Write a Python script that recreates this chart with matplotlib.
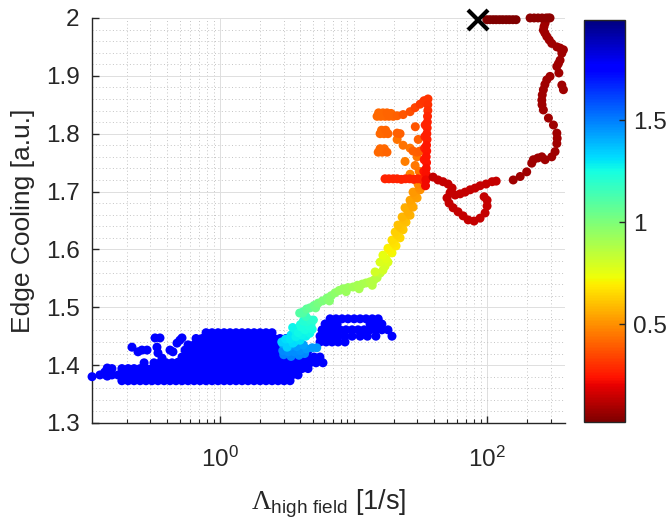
import numpy as np
import matplotlib
matplotlib.use('Agg')
import matplotlib.pyplot as plt
from matplotlib.ticker import FixedLocator, MultipleLocator, NullFormatter

plt.rcParams['font.family'] = ['Liberation Sans', 'DejaVu Sans']
plt.rcParams['mathtext.fontset'] = 'custom'
plt.rcParams['mathtext.rm'] = 'Liberation Serif'
plt.rcParams['mathtext.sf'] = 'Liberation Sans'
plt.rcParams['mathtext.it'] = 'Liberation Sans:italic'

txt = '#262626'

# ---- blue cluster (read row by row), colour value ~1.75
blue_y = [1.456, 1.446, 1.435, 1.425, 1.414, 1.404, 1.394, 1.383, 1.373]
blue_x = [
    [0.786, 0.871, 0.966, 1.072, 1.188, 1.318, 1.461, 1.621, 1.798, 1.994, 2.211, 2.452],
    [0.661, 0.733, 0.813, 0.902, 1.0, 1.109, 1.23, 1.364, 1.513, 1.678, 1.861, 2.064,
     2.289, 2.538, 2.815, 3.122],
    [0.576, 0.639, 0.708, 0.786, 0.871, 0.966, 1.072, 1.188, 1.318, 1.461, 1.621, 1.798,
     1.994, 2.211, 2.452, 2.72, 3.016, 3.345],
    [0.596, 0.661, 0.733, 0.813, 0.902, 1.0, 1.109, 1.23, 1.364, 1.513, 1.678, 1.861,
     2.064, 2.289, 2.538, 2.815, 3.122, 3.462, 3.84, 4.258, 4.56],
    [0.519, 0.576, 0.639, 0.708, 0.786, 0.871, 0.966, 1.072, 1.188, 1.318, 1.461, 1.621,
     1.798, 1.994, 2.211, 2.452, 2.72, 3.016, 3.345, 3.709, 4.114, 4.562, 5.059, 5.6],
    [0.27, 0.32, 0.355, 0.394, 0.437, 0.485, 0.538, 0.596, 0.661, 0.733, 0.813, 0.902, 1.0,
     1.109, 1.23, 1.364, 1.513, 1.678, 1.861, 2.064, 2.289, 2.538, 2.815, 3.122, 3.462,
     3.84, 4.258, 4.722, 5.237, 5.9],
    [0.155, 0.184, 0.205, 0.227, 0.252, 0.279, 0.309, 0.343, 0.381, 0.422, 0.468, 0.519,
     0.576, 0.639, 0.708, 0.786, 0.871, 0.966, 1.072, 1.188, 1.318, 1.461, 1.621, 1.798,
     1.994, 2.211, 2.452, 2.72, 3.016, 3.345, 3.709, 4.114, 4.562],
    [0.126, 0.14, 0.155, 0.172, 0.191, 0.212, 0.235, 0.26, 0.289, 0.32, 0.355, 0.394,
     0.437, 0.485, 0.538, 0.596, 0.661, 0.733, 0.813, 0.902, 1.0, 1.109, 1.23, 1.364,
     1.513, 1.678, 1.861, 2.064, 2.289, 2.538, 2.815, 3.122, 3.462, 3.84],
    [0.184, 0.205, 0.227, 0.252, 0.279, 0.309, 0.343, 0.381, 0.422, 0.468, 0.519, 0.576,
     0.639, 0.708, 0.786, 0.871, 0.966, 1.072, 1.188, 1.318, 1.461, 1.621, 1.798, 1.994,
     2.211, 2.452, 2.72, 3.016, 3.345],
]
blue_c = 1.75

# scattered blue points left of the cluster
stray_x = [0.110, 0.137, 0.150, 0.143, 0.143, 0.219, 0.243, 0.26, 0.284, 0.326, 0.337,
           0.343, 0.368, 0.422, 0.444, 0.476, 0.519, 0.485, 0.547, 0.355, 0.5]
stray_y = [1.380, 1.388, 1.388, 1.395, 1.381, 1.431, 1.423, 1.426, 1.426, 1.447, 1.431,
           1.421, 1.412, 1.426, 1.423, 1.438, 1.447, 1.405, 1.426, 1.447, 1.443]

# blue strip to the right of the cluster
strip_y = [1.480, 1.471, 1.461, 1.450, 1.440]
strip_x = [
    [6.67, 7.39, 8.20, 9.09, 10.1, 11.2, 12.4, 13.8, 15.3],
    [6.12, 6.78, 7.52, 13.3, 14.7, 16.3],
    [5.81, 6.44, 7.14, 7.92, 8.78, 9.75, 10.8, 12.0, 13.3, 14.7, 16.3, 18.1],
    [5.61, 6.22, 6.90, 7.66, 8.63, 9.75, 11.2, 12.7, 14.7, 19.4],
    [5.61, 6.22, 6.90, 7.66, 8.63],
]

# light blue patch (bottom) and cyan column (top)
lblue_x = [2.95, 3.25, 3.6, 4.0, 4.45, 4.9, 3.3, 3.75, 4.2, 2.95, 5.3, 3.0, 3.4, 3.9, 4.3]
lblue_y = [1.425, 1.423, 1.423, 1.425, 1.428, 1.430, 1.432, 1.432, 1.435, 1.437, 1.430,
           1.418, 1.415, 1.417, 1.420]
lblue_c = [1.48, 1.47, 1.47, 1.46, 1.45, 1.45, 1.44, 1.44, 1.43, 1.43, 1.45,
           1.49, 1.49, 1.48, 1.48]
cyan_x = [3.18, 3.52, 3.97, 3.35, 3.70, 4.10, 3.85, 4.33, 4.05, 4.60, 4.48, 4.72, 4.40, 4.18,
          2.9, 3.3, 3.6, 3.1, 3.4, 3.7, 4.0, 4.4, 4.7, 4.9, 3.5, 4.0, 4.2, 4.8, 5.0]
cyan_y = [1.431, 1.438, 1.443, 1.445, 1.449, 1.452, 1.456, 1.461, 1.466, 1.468, 1.475,
          1.478, 1.484, 1.490,
          1.440, 1.438, 1.440, 1.445, 1.452, 1.458, 1.447, 1.450, 1.455, 1.462, 1.465,
          1.470, 1.476, 1.470, 1.478]
cyan_c = [1.34, 1.32, 1.30, 1.30, 1.28, 1.27, 1.26, 1.25, 1.24, 1.23, 1.22, 1.20, 1.16, 1.12,
          1.34, 1.34, 1.32, 1.32, 1.30, 1.28, 1.30, 1.28, 1.26, 1.25, 1.27, 1.24, 1.22,
          1.23, 1.20]

# green -> yellow stretch
green_x = [4.18, 4.45, 4.72, 5.05, 5.42, 5.85, 6.33, 6.8, 7.27, 7.8, 8.34, 9.1, 9.91, 10.7,
           11.6, 12.4, 13.3, 14.2, 15.0, 15.8, 5.2, 6.6, 8.8, 11.0, 13.8, 3.95]
green_y = [1.492, 1.497, 1.499, 1.503, 1.507, 1.511, 1.516, 1.520, 1.525, 1.529, 1.532,
           1.534, 1.535, 1.538, 1.540, 1.542, 1.544, 1.547, 1.551, 1.559,
           1.499, 1.511, 1.527, 1.532, 1.538, 1.490]
green_c = [1.10, 1.08, 1.06, 1.04, 1.02, 1.00, 0.99, 0.975, 0.96, 0.95, 0.94, 0.93, 0.92,
           0.91, 0.90, 0.89, 0.88, 0.87, 0.86, 0.84, 1.03, 0.98, 0.93, 0.9, 0.87, 1.1]

# yellow -> orange rising band
orange_x = [14.5, 16.6, 15.8, 18.1, 16.6, 19.4, 18.1, 20.8, 19.4, 22.3, 20.5, 23.5, 21.5,
            24.7, 23.1, 26.5, 24.3, 27.9, 26.5, 29.9, 27.9, 31.5, 30.4, 33.7,
            17.2, 17.5, 18.8, 20.0, 21.2, 22.3, 23.8, 25.5, 27.0, 28.8, 31.0]
orange_y = [1.561, 1.564, 1.578, 1.578, 1.590, 1.594, 1.602, 1.606, 1.616, 1.620, 1.630,
            1.634, 1.642, 1.647, 1.656, 1.659, 1.672, 1.673, 1.685, 1.689, 1.699, 1.703,
            1.713, 1.710,
            1.571, 1.584, 1.598, 1.611, 1.625, 1.638, 1.651, 1.665, 1.679, 1.694, 1.707]
orange_c = [0.80, 0.80, 0.78, 0.78, 0.75, 0.72, 0.70, 0.68, 0.66, 0.65, 0.63, 0.62, 0.60,
            0.60, 0.58, 0.57, 0.56, 0.55, 0.54, 0.53, 0.52, 0.50, 0.48, 0.46,
            0.79, 0.76, 0.71, 0.67, 0.64, 0.61, 0.59, 0.565, 0.545, 0.525, 0.49]

# orange / red "E" shape
e_x = [15.0, 16.0, 17.2, 18.4, 19.8, 21.2, 23.5, 26.5, 28.9, 31.5, 33.7,
       15.8, 16.9, 18.1, 21.2, 22.3,
       15.3, 16.4, 17.8, 27.9, 29.9, 31.5,
       21.2, 23.5, 26.5, 29.9, 24.3, 28.9, 31.0, 26.5, 30.5, 29.0,
       15.4, 16.6, 17.8, 19.1, 16.2, 17.4, 15.8, 17.0]
e_y = [1.830, 1.830, 1.830, 1.830, 1.830, 1.831, 1.833, 1.838, 1.845, 1.851, 1.857,
       1.800, 1.800, 1.800, 1.801, 1.800,
       1.768, 1.768, 1.768, 1.770, 1.768, 1.770,
       1.790, 1.780, 1.775, 1.760, 1.752, 1.745, 1.735, 1.730, 1.790, 1.812,
       1.836, 1.836, 1.836, 1.835, 1.806, 1.806, 1.774, 1.774]
e_c = [0.42, 0.42, 0.42, 0.41, 0.41, 0.40, 0.38, 0.36, 0.34, 0.32, 0.31,
       0.42, 0.42, 0.41, 0.40, 0.40,
       0.42, 0.42, 0.41, 0.40, 0.40, 0.39,
       0.44, 0.44, 0.45, 0.45, 0.46, 0.45, 0.44, 0.47, 0.40, 0.38,
       0.42, 0.42, 0.41, 0.41, 0.42, 0.41, 0.42, 0.42]

# red horizontal and vertical strokes
redh_x = [17.2, 18.4, 19.8, 21.2, 22.8, 24.5, 26.3, 28.2, 30.2, 32.4, 34.7]
redh_y = [1.722, 1.722, 1.722, 1.722, 1.721, 1.722, 1.722, 1.721, 1.722, 1.721, 1.720]
redv_x = [34.6, 34.8, 35.0, 35.0, 35.2, 35.0, 35.3, 35.2, 35.5, 35.4, 35.6, 35.7, 35.8,
          36.0, 36.0, 36.1, 33.6, 33.8, 34.0, 34.2, 34.4]
redv_y = [1.71, 1.72, 1.73, 1.74, 1.75, 1.76, 1.77, 1.78, 1.79, 1.80, 1.81, 1.82, 1.83,
          1.84, 1.85, 1.86, 1.735, 1.755, 1.775, 1.795, 1.815]
redv_c = [0.22, 0.22, 0.23, 0.23, 0.24, 0.24, 0.25, 0.25, 0.26, 0.26, 0.27, 0.27, 0.28,
          0.29, 0.30, 0.31, 0.24, 0.25, 0.26, 0.27, 0.28]

# dark red loop
loop_x = [39.4, 42.9, 46.8, 51.0, 54.7, 52.8, 50.1, 51.9, 55.6, 60.6, 66.1, 72.1, 79.9,
          88.6, 96.6, 100, 100, 95, 57.6, 62.8, 68.4, 74.6, 81.3, 88.6, 98.3, 109, 117]
loop_y = [1.725, 1.720, 1.717, 1.713, 1.706, 1.698, 1.689, 1.680, 1.672, 1.665, 1.658,
          1.651, 1.649, 1.654, 1.663, 1.675, 1.685, 1.691, 1.694, 1.696, 1.699, 1.703,
          1.706, 1.710, 1.713, 1.717, 1.718]
loop_c = 0.14

# dark red trail up to the top
trail_x = [157, 177, 198, 216, 222, 240, 257, 272, 305, 323, 333, 335, 333, 314, 288, 264,
           258, 257, 259, 264, 271, 280, 296, 373, 363, 345, 333, 342, 352, 363, 373, 352,
           333, 305, 292, 280, 271, 264, 267, 272, 288]
trail_y = [1.720, 1.726, 1.734, 1.749, 1.755, 1.758, 1.760, 1.755, 1.760, 1.769, 1.783,
           1.792, 1.801, 1.815, 1.827, 1.841, 1.850, 1.858, 1.867, 1.876, 1.885, 1.893,
           1.899, 1.876, 1.884, 1.905, 1.916, 1.921, 1.927, 1.939, 1.945, 1.948, 1.950,
           1.956, 1.962, 1.968, 1.974, 1.979, 1.985, 1.991, 2.0]
trail_c = 0.08

top_r_x = [210, 225, 241, 258, 277, 296]
top_r_y = [2.0, 2.0, 2.0, 2.0, 2.0, 2.0]
top_l_x = [99.5, 105, 111, 117, 124, 131, 139, 147, 156, 165]
top_l_y = [1.997, 1.997, 1.997, 1.997, 1.997, 1.997, 1.997, 1.997, 1.997, 1.997]

end_x, end_y = 86, 1.997

y_ticks = [1.3, 1.4, 1.5, 1.6, 1.7, 1.8, 1.9, 2.0]
y_labels = ['1.3', '1.4', '1.5', '1.6', '1.7', '1.8', '1.9', '2']
cb_ticks = [0.5, 1, 1.5]
cb_labels = ['0.5', '1', '1.5']

# ---- assemble
xs, ys, cs = [], [], []
for yv, row in zip(blue_y, blue_x):
    xs += row; ys += [yv] * len(row); cs += [blue_c] * len(row)
for yv, row in zip(strip_y, strip_x):
    xs += row; ys += [yv] * len(row); cs += [blue_c] * len(row)
xs += stray_x; ys += stray_y; cs += [blue_c] * len(stray_x)
xs += lblue_x; ys += lblue_y; cs += lblue_c
xs += cyan_x; ys += cyan_y; cs += cyan_c
xs += green_x; ys += green_y; cs += green_c
xs += orange_x; ys += orange_y; cs += orange_c
xs += e_x; ys += e_y; cs += e_c
xs += redh_x; ys += redh_y; cs += [0.27] * len(redh_x)
xs += redv_x; ys += redv_y; cs += redv_c
xs += loop_x; ys += loop_y; cs += [loop_c] * len(loop_x)
xs += trail_x; ys += trail_y; cs += [trail_c] * len(trail_x)
xs += top_r_x; ys += top_r_y; cs += [0.05] * len(top_r_x)
xs += top_l_x; ys += top_l_y; cs += [0.02] * len(top_l_x)

xs = np.array(xs); ys = np.array(ys); cs = np.array(cs)
order = np.argsort(-cs, kind='stable')

fig = plt.figure(figsize=(6.67, 5.22), dpi=100)
ax = fig.add_axes([0.138, 0.1897, 0.709, 0.7759])
cax = fig.add_axes([0.8756, 0.1916, 0.0615, 0.770])

sc = ax.scatter(xs[order], ys[order], c=cs[order], cmap='jet_r', vmin=0.02, vmax=1.99,
                s=42, linewidths=0, clip_on=False, zorder=3)
ax.plot([end_x], [end_y], 'x', color='k', ms=15, mew=3, clip_on=False, zorder=4)

ax.set_xscale('log')
ax.set_xlim(0.11, 383)
ax.set_ylim(1.3, 2.0)
ax.xaxis.set_major_locator(FixedLocator([1, 100]))
minors = [k * 10.0 ** d for d in range(-1, 3) for k in range(1, 10)
          if k * 10.0 ** d not in (1, 100)]
ax.xaxis.set_minor_locator(FixedLocator(minors))
ax.xaxis.set_minor_formatter(NullFormatter())
ax.yaxis.set_major_locator(FixedLocator(y_ticks))
ax.set_yticklabels(y_labels)
ax.yaxis.set_minor_locator(MultipleLocator(0.02))
ax.yaxis.set_minor_formatter(NullFormatter())

ax.grid(which='major', color='#dedede', lw=0.7, ls='-', zorder=0)
ax.grid(which='minor', color='#c4c4c4', lw=0.7, ls=(0, (1, 2.5)), zorder=0)
ax.set_axisbelow(True)

for side in ['top', 'right']:
    ax.spines[side].set_visible(False)
for side in ['left', 'bottom']:
    ax.spines[side].set_color(txt)
    ax.spines[side].set_linewidth(1.0)

ax.tick_params(axis='both', which='major', direction='in', length=5, width=1,
               colors=txt, labelsize=17.5)
ax.tick_params(axis='x', which='major', pad=17)
ax.tick_params(axis='y', which='major', pad=9)
ax.tick_params(axis='x', which='minor', direction='in', length=3, width=0.8, colors=txt)
ax.tick_params(axis='y', which='minor', length=0)

ax.set_xlabel(r'$\Lambda_{\mathsf{high\ field}}$ [1/s]', fontsize=19.5, color=txt)
ax.set_ylabel('Edge Cooling [a.u.]', fontsize=19, color=txt)
ax.xaxis.set_label_coords(0.5, -0.16)
ax.yaxis.set_label_coords(-0.12, 0.5)

cb = fig.colorbar(sc, cax=cax, ticks=cb_ticks)
cb.ax.set_yticklabels(cb_labels)
cb.outline.set_edgecolor(txt)
cb.outline.set_linewidth(1.0)
cb.ax.tick_params(direction='in', length=4, width=1, colors=txt, labelsize=17.5, pad=6)

fig.savefig('out.png', dpi=100)
